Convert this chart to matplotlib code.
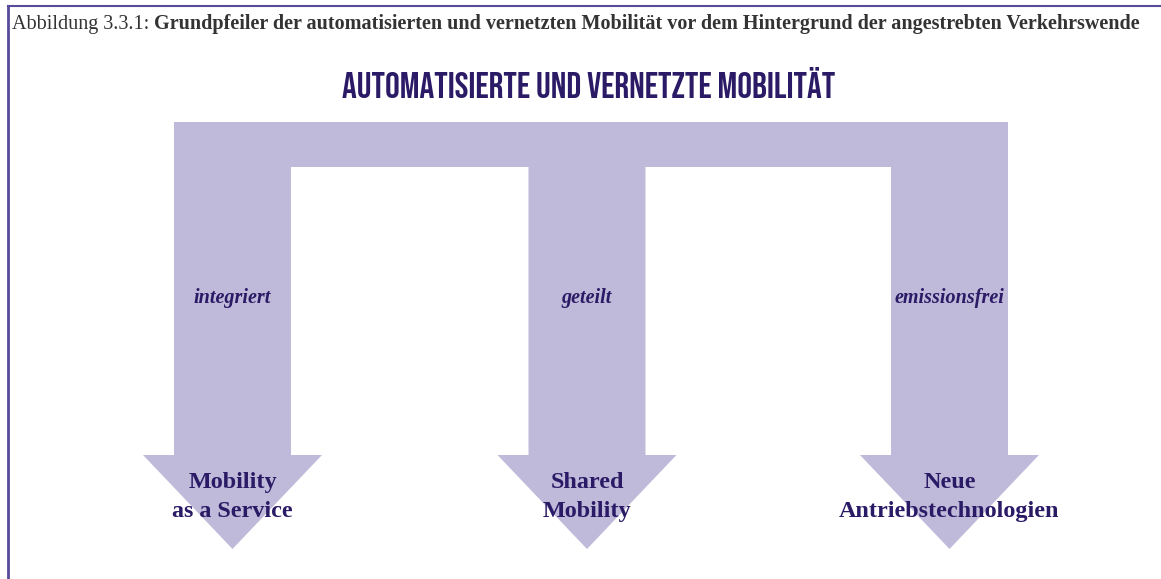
import matplotlib.pyplot as plt
from matplotlib.patches import Polygon
from matplotlib import font_manager as fm

# Inhalte der Abbildung
caption_prefix = "Abbildung 3.3.1: "
caption_main = "Grundpfeiler der automatisierten und vernetzten Mobilität vor dem Hintergrund der angestrebten Verkehrswende"
title = "AUTOMATISIERTE UND VERNETZTE MOBILITÄT"
pillar_tags = ["integriert", "geteilt", "emissionsfrei"]
pillar_names = ["Mobility\nas a Service", "Shared\nMobility", "Neue\nAntriebstechnologien"]

arrow_col = "#bfbad9"
text_col = "#2b1a66"
frame_col = "#5a4a9a"

names = {f.name for f in fm.fontManager.ttflist}
title_font = "DejaVu Sans"
for cand in ["Bebas Neue", "Oswald", "Anton", "Fjalla One"]:
    if cand in names:
        title_font = cand
        break
serif = ["Liberation Serif", "DejaVu Serif"]

fig = plt.figure(figsize=(11.61, 5.79), dpi=100)
ax = fig.add_axes([0, 0, 1, 1])
ax.set_xlim(0, 1161)
ax.set_ylim(579, 0)
ax.axis("off")

# Rahmen
ax.plot([8, 1161], [6, 6], color=frame_col, lw=1.5)
ax.plot([8, 8], [6, 579], color=frame_col, lw=2)

t0 = ax.text(12, 24, caption_prefix, family=serif, fontsize=14.5, color="#333333",
             va="center", ha="left")
fig.canvas.draw()
bb = t0.get_window_extent()
x_after = ax.transData.inverted().transform((bb.x1, bb.y0))[0]
ax.text(x_after, 24, caption_main, family=serif, fontsize=14.5, weight="bold",
        color="#333333", va="center", ha="left")

ax.text(589, 82, title, family=title_font, fontsize=26.5, color=text_col,
        ha="center", va="center")

# Balken oben
top_y0, top_y1 = 122, 167
centers = [232.5, 587, 949.5]
half_col = 58.5
half_head = 89.5
head_y, tip_y = 455, 549

ax.add_patch(Polygon([(centers[0] - half_col, top_y0), (centers[-1] + half_col, top_y0),
                      (centers[-1] + half_col, top_y1), (centers[0] - half_col, top_y1)],
                     closed=True, facecolor=arrow_col, edgecolor="none"))
for c, tag, name in zip(centers, pillar_tags, pillar_names):
    ax.add_patch(Polygon([(c - half_col, top_y0), (c + half_col, top_y0),
                          (c + half_col, head_y), (c + half_head, head_y),
                          (c, tip_y), (c - half_head, head_y),
                          (c - half_col, head_y)],
                         closed=True, facecolor=arrow_col, edgecolor="none"))
    ax.text(c, 298, tag, family=serif, fontsize=14.5, style="italic", weight="bold",
            color=text_col, ha="center", va="center")
    ax.text(c, 497, name, family=serif, fontsize=17.4, weight="bold",
            color=text_col, ha="center", va="center", linespacing=1.55)

fig.savefig("out.png", dpi=100)
